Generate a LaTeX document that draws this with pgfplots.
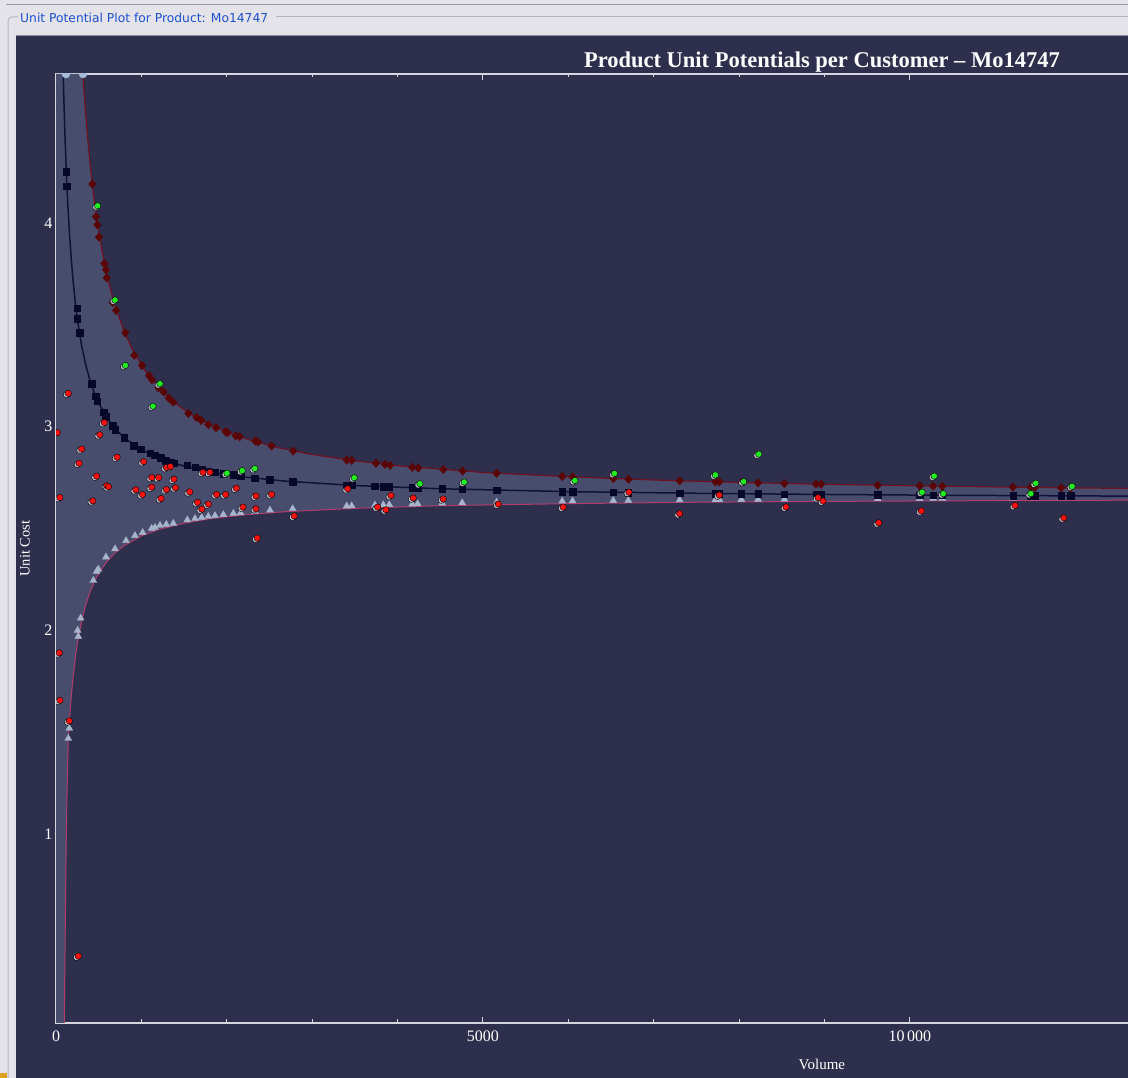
\documentclass[border=0pt]{standalone}
\usepackage{fontspec}
\setmainfont{Liberation Serif}
\newfontfamily\uisans{DejaVu Sans}
\usepackage{pgfplots}
\usepackage{pgfplotstable}
\pgfplotsset{compat=1.18}
\definecolor{winbg}{HTML}{E3E3E9}
\definecolor{winline}{HTML}{9A9AA6}
\definecolor{boxcol}{HTML}{B4B4BE}
\definecolor{uiblue}{HTML}{1E50D2}
\definecolor{panel}{HTML}{2E2F4C}
\definecolor{paneledge}{HTML}{8A8AA0}
\definecolor{band}{HTML}{484D6D}
\definecolor{axiscol}{HTML}{D6D6DE}
\definecolor{upline}{HTML}{6E1222}
\definecolor{diamcol}{HTML}{5A0606}
\definecolor{midline}{HTML}{10123A}
\definecolor{sqcol}{HTML}{070829}
\definecolor{lowline}{HTML}{B23C6C}
\definecolor{tricol}{HTML}{A6B4CC}
\definecolor{reddot}{HTML}{FF1010}
\definecolor{greendot}{HTML}{22EE22}
\definecolor{ghost}{HTML}{B9BBCC}
\definecolor{topdot}{HTML}{A4BCDA}
\definecolor{orangemark}{HTML}{E0A020}

\pgfplotstableread{
x y
15 2.97
45 2.652
39 1.89
47 1.657
156 1.556
261 0.402
144 3.163
566 3.02
513 2.96
301 2.89
271 2.82
716 2.85
476 2.757
595 2.71
615 2.705
431 2.636
1026 2.828
935 2.69
1013 2.667
1122 2.75
1202 2.75
1122 2.703
1294 2.799
1340 2.804
1382 2.742
1292 2.691
1400 2.70
1230 2.647
1566 2.68
1658 2.628
1785 2.62
1708 2.595
1721 2.776
1803 2.776
1881 2.667
1987 2.667
2112 2.698
2190 2.605
2342 2.66
2342 2.597
2357 2.453
2525 2.667
2790 2.562
3416 2.695
3767 2.605
3864 2.592
3923 2.662
4184 2.65
4535 2.645
5180 2.62
5941 2.605
6710 2.678
7304 2.573
7769 2.664
8550 2.606
8925 2.651
8984 2.635
9635 2.528
10135 2.586
11232 2.613
11803 2.552
}\reddata

\pgfplotstableread{
x y
488 4.083
691 3.621
812 3.30
1218 3.21
1136 3.10
2002 2.771
2181 2.784
2328 2.794
3493 2.749
4262 2.72
4781 2.728
6077 2.735
6540 2.770
7723 2.763
8053 2.73
8230 2.865
10143 2.678
10285 2.757
10392 2.671
11417 2.671
11475 2.722
11900 2.707
}\greendata

\begin{document}
\begin{tikzpicture}[x=1bp,y=1bp]
\useasboundingbox (0,0) rectangle (1128,1078);
\clip (0,0) rectangle (1128,1078);
\fill[winbg] (0,0) rectangle (1128,1078);
\draw[winline, line width=1bp] (6,1073) -- (1128,1073);
\draw[boxcol, line width=1bp, rounded corners=4bp] (18,1061) -- (8,1061) -- (8,-5);
\draw[boxcol, line width=1bp] (276,1061) -- (1130,1061);
\node[anchor=west, text=uiblue, inner sep=0pt, font=\uisans\fontsize{12.3bp}{14bp}\selectfont] at (20,1060) {Unit Potential Plot for Product: Mo14747};
\fill[panel] (16,-2) rectangle (1130,1043);
\draw[paneledge, line width=0.8bp] (16,1043) -- (1130,1043);
\fill[orangemark] (0,0) rectangle (7,5);

\begin{axis}[
  at={(56bp,55bp)}, anchor=south west,
  scale only axis, width=1110bp, height=949bp,
  xmin=0, xmax=13000, ymin=0.074, ymax=4.73,
  scaled x ticks=false, scaled y ticks=false,
  axis line style={draw=axiscol, line width=1.2bp},
  every tick/.style={draw=axiscol, line width=0.9bp},
  tick align=inside,
  major tick length=6bp, minor tick length=3.5bp,
  xtick={0,5000,10000}, xticklabels={0,5000,10\,000},
  minor x tick num=4,
  ytick={1,2,3,4}, yticklabels={1,2,3,4},
  minor y tick num=4,
  tick label style={text=white, font=\fontsize{16bp}{18bp}\selectfont},
  xticklabel style={yshift=-4bp},
  title={\textbf{Product Unit Potentials per Customer -- Mo14747}},
  title style={at={(rel axis cs:0.69,1)}, anchor=base, yshift=0.3bp, text=white, font=\fontsize{22.5bp}{24bp}\selectfont},
  xlabel={Volume},
  xlabel style={at={(rel axis cs:0.69,0)}, anchor=center, yshift=-41bp, text=white, font=\fontsize{15bp}{17bp}\selectfont},
  ylabel={Unit Cost},
  ylabel style={at={(rel axis cs:0,0.5)}, anchor=center, yshift=31bp, text=white, font=\fontsize{14.5bp}{17bp}\selectfont},
  clip marker paths=true,
]
% band between upper and lower curves
\addplot[fill=band, draw=none] coordinates {
(0,4.73) (315,4.73) (330,4.635) (350,4.521) (375,4.396) (400,4.287) (425,4.190) (450,4.104) (500,3.958) (550,3.839) (600,3.739) (650,3.655) (700,3.583) (800,3.465) (900,3.374) (1000,3.301) (1100,3.241) (1250,3.170) (1400,3.113) (1600,3.055) (1800,3.009) (2000,2.973) (2300,2.930) (2600,2.897) (3000,2.863) (3500,2.832) (4000,2.808) (5000,2.775) (6000,2.754) (7000,2.738) (8000,2.726) (9000,2.717) (10000,2.710) (11000,2.704) (12000,2.699) (13000,2.695)
(13000,2.640) (12000,2.638) (10500,2.636) (9000,2.633) (7500,2.629) (6000,2.622) (4500,2.612) (3500,2.599) (2700,2.583) (2200,2.567) (1800,2.548) (1500,2.526) (1200,2.495) (1000,2.464) (800,2.417) (700,2.384) (600,2.340) (500,2.280) (450,2.240) (400,2.191) (350,2.128) (300,2.046) (260,1.960) (230,1.876) (200,1.771) (180,1.682) (160,1.575) (144,1.47) (132,1.26) (121,1.00) (113,0.72) (105,0.40) (97,0.074) (0,0.074)
} -- cycle;
% upper curve
\addplot[upline, line width=1.2bp, mark=none] coordinates {
(315,4.73) (330,4.635) (350,4.521) (375,4.396) (400,4.287) (425,4.190) (450,4.104) (500,3.958) (550,3.839) (600,3.739) (650,3.655) (700,3.583) (800,3.465) (900,3.374) (1000,3.301) (1100,3.241) (1250,3.170) (1400,3.113) (1600,3.055) (1800,3.009) (2000,2.973) (2300,2.930) (2600,2.897) (3000,2.863) (3500,2.832) (4000,2.808) (5000,2.775) (6000,2.754) (7000,2.738) (8000,2.726) (9000,2.717) (10000,2.710) (11000,2.704) (12000,2.699) (13000,2.695)
};
% middle curve
\addplot[midline, line width=1.5bp, mark=none] coordinates {
(85,4.720) (90,4.640) (100,4.495) (110,4.370) (121,4.250) (128,4.180) (140,4.078) (160,3.933) (180,3.815) (200,3.716) (230,3.595) (260,3.499) (300,3.397) (350,3.300) (400,3.224) (450,3.164) (500,3.116) (600,3.041) (700,2.986) (800,2.945) (1000,2.886) (1200,2.846) (1500,2.806) (1800,2.778) (2200,2.753) (2700,2.732) (3500,2.711) (4500,2.695) (6000,2.681) (7500,2.673) (9000,2.667) (10500,2.663) (12000,2.660) (13000,2.658)
};
% lower curve
\addplot[lowline, line width=1bp, mark=none] coordinates {
(97,0.074) (105,0.40) (113,0.72) (121,1.00) (132,1.26) (144,1.47) (160,1.575) (180,1.682) (200,1.771) (230,1.876) (260,1.960) (300,2.046) (350,2.128) (400,2.191) (450,2.240) (500,2.280) (600,2.340) (700,2.384) (800,2.417) (1000,2.464) (1200,2.495) (1500,2.526) (1800,2.548) (2200,2.567) (2700,2.583) (3500,2.599) (4500,2.612) (6000,2.622) (7500,2.629) (9000,2.633) (10500,2.636) (12000,2.638) (13000,2.640)
};
% triangles (lower potential)
\addplot[only marks, mark=triangle*, mark size=4bp, mark options={fill=tricol, draw=tricol}] coordinates {
(144,1.47) (156,1.52) (253,2.00) (261,1.97) (289,2.06) (437,2.245) (476,2.29) (496,2.30) (585,2.36) (691,2.40) (820,2.44) (925,2.465) (1015,2.48) (1120,2.50) (1159,2.505) (1218,2.515) (1292,2.52) (1374,2.525)
(1538,2.542) (1628,2.548) (1706,2.554) (1784,2.559) (1862,2.563) (1960,2.568) (2077,2.574) (2162,2.577) (2330,2.584) (2506,2.590) (2772,2.597) (3404,2.610) (3463,2.611) (3735,2.615) (3833,2.616) (3903,2.617) (4172,2.620) (4235,2.621) (4523,2.624) (4757,2.626) (5160,2.629) (5929,2.634) (6050,2.635) (6526,2.637) (6702,2.638) (7304,2.640) (7723,2.641) (7769,2.642) (8026,2.642) (8222,2.643) (8530,2.644) (8901,2.645) (8960,2.645) (9623,2.646) (10116,2.647) (10273,2.648) (10380,2.648) (11208,2.649) (11417,2.650) (11464,2.650) (11772,2.650) (11882,2.650)
};
% squares (mean potential)
\addplot[only marks, mark=square*, mark size=3.3bp, mark options={fill=sqcol, draw=sqcol}] coordinates {
(121,4.25) (128,4.18) (246,3.58) (250,3.53) (277,3.46) (418,3.21) (464,3.15) (484,3.125) (562,3.07) (581,3.05) (663,3.005) (691,2.985) (800,2.945) (913,2.907) (992,2.89) (1101,2.87) (1159,2.86) (1226,2.847) (1288,2.833) (1347,2.826) (1386,2.82) (1538,2.81) (1628,2.80) (1706,2.79) (1784,2.78) (1862,2.776) (1960,2.77) (2077,2.765) (2162,2.757) (2330,2.747) (2506,2.740) (2772,2.730) (3404,2.713) (3463,2.712) (3735,2.707) (3833,2.705) (3903,2.704) (4172,2.700) (4235,2.699) (4523,2.695) (4757,2.692) (5160,2.688) (5929,2.682) (6050,2.681) (6526,2.678) (6702,2.677) (7304,2.674) (7723,2.672) (7769,2.671) (8026,2.670) (8222,2.670) (8530,2.669) (8901,2.667) (8960,2.667) (9623,2.665) (10116,2.664) (10273,2.664) (10380,2.663) (11208,2.661) (11417,2.661) (11464,2.661) (11772,2.660) (11882,2.660)
};
% diamonds (upper potential)
\addplot[only marks, mark=diamond*, mark size=4.2bp, mark options={fill=diamcol, draw=diamcol, xscale=1.2}] coordinates {
(425,4.19) (468,4.03) (484,3.99) (503,3.93) (566,3.80) (585,3.77) (593,3.73) (663,3.61) (703,3.57) (812,3.46) (917,3.35) (1007,3.30) (1090,3.25) (1125,3.23) (1200,3.19) (1260,3.17) (1320,3.14) (1374,3.12) (1550,3.065) (1647,3.045) (1700,3.03) (1784,3.01) (1874,2.995) (1987,2.975) (2010,2.97) (2104,2.955) (2150,2.95) (2334,2.93) (2365,2.925) (2525,2.905) (2779,2.88) (3404,2.836) (3463,2.834) (3747,2.82) (3852,2.815) (3914,2.81) (4172,2.80) (4243,2.797) (4535,2.789) (4762,2.782) (5160,2.771) (5929,2.755) (6050,2.753) (6528,2.745) (6705,2.742) (7304,2.734) (7723,2.729) (7769,2.729) (8026,2.726) (8222,2.724) (8530,2.721) (8901,2.718) (8960,2.717) (9623,2.712) (10116,2.709) (10273,2.708) (10380,2.707) (11208,2.703) (11417,2.702) (11464,2.701) (11772,2.700) (11882,2.699)
};
% marks where curves leave the top
\addplot[only marks, mark=*, mark size=4bp, mark options={fill=topdot, draw=topdot}] coordinates {(117,4.73) (316,4.73)};
% customer points: ghost then colour
\addplot[only marks, mark=*, mark size=3.2bp, mark options={fill=ghost, draw=none, xshift=-1.8bp, yshift=-1.3bp}] table[x=x,y=y] {\reddata};
\addplot[only marks, mark=*, mark size=3.2bp, mark options={fill=reddot, draw=none}] table[x=x,y=y] {\reddata};
\addplot[only marks, mark=*, mark size=3.2bp, mark options={fill=ghost, draw=none, xshift=-1.8bp, yshift=-1.3bp}] table[x=x,y=y] {\greendata};
\addplot[only marks, mark=*, mark size=3.2bp, mark options={fill=greendot, draw=none}] table[x=x,y=y] {\greendata};
\end{axis}
\end{tikzpicture}
\end{document}
